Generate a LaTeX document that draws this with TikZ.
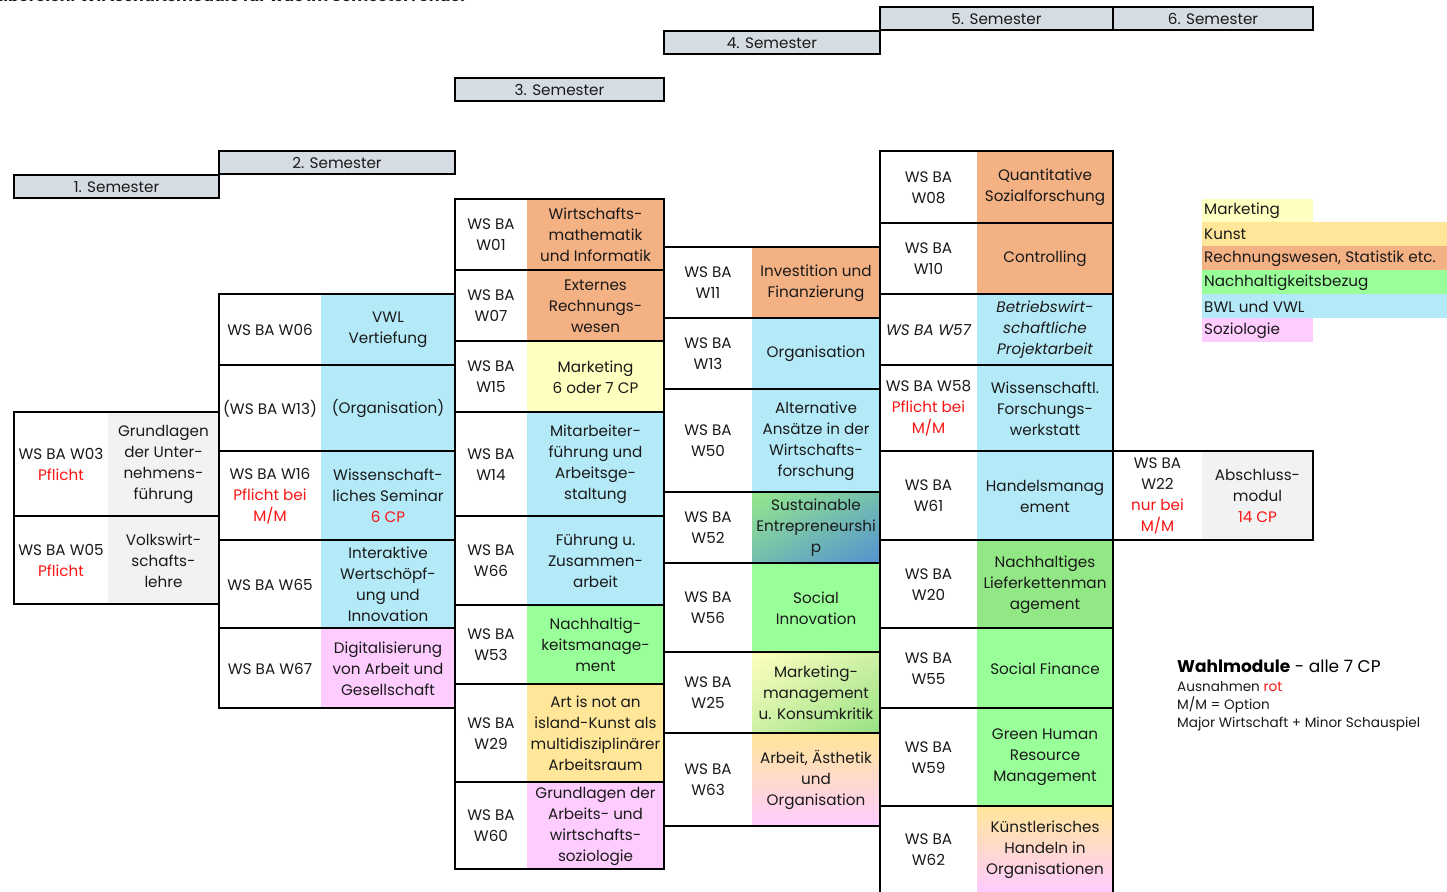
\documentclass[tikz,border=0pt]{standalone}
\usepackage{fontspec}
\setmainfont{Poppins}
\usetikzlibrary{shadings}
\definecolor{hdrc}{RGB}{214,220,228}
\definecolor{orng}{RGB}{244,177,131}
\definecolor{yel}{RGB}{255,255,191}
\definecolor{kunst}{RGB}{255,230,153}
\definecolor{grn}{RGB}{153,255,153}
\definecolor{grnd}{RGB}{146,232,132}
\definecolor{blu}{RGB}{180,234,248}
\definecolor{pnk}{RGB}{255,204,255}
\definecolor{gry}{RGB}{242,242,242}
\definecolor{txtc}{RGB}{26,26,26}
\definecolor{rd}{RGB}{250,20,20}
\definecolor{sblue}{RGB}{85,145,210}
\definecolor{sgreen}{RGB}{150,232,140}
\definecolor{steal}{RGB}{115,190,175}
\definecolor{mgreen}{RGB}{150,225,130}
\definecolor{myel}{RGB}{205,240,165}
\newcommand{\rt}[1]{\textcolor{rd}{#1}}
\newcommand{\cellfont}{\fontsize{15.2}{21}\selectfont}
\tikzset{
  bd/.style={draw=black, line width=1.8pt},
  txt/.style={align=center, font=\cellfont, text=txtc, inner sep=0pt},
  hdrbox/.style={fill=hdrc, draw=black, line width=1.8pt},
  legtxt/.style={anchor=west, font=\cellfont, text=txtc, inner sep=0pt}
}
% name, x1, xs, x2, y1, y2, fillspec, code, title
\newcommand{\modcell}[9]{%
  \path[#7] (#3,#5) rectangle (#4,#6);
  \node[txt] (#1c) at ({(#2+#3)/2},{(#5+#6)/2+0.5}) {#8};
  \node[txt] (#1t) at ({(#3+#4)/2},{(#5+#6)/2+0.5}) {#9};
  \draw[bd] (#2,#5) rectangle (#4,#6);
}
\begin{document}
\begin{tikzpicture}[x=1pt,y=-1pt]
\useasboundingbox[fill=white] (0,0) rectangle (1447,891);

% cut-off title
\node[anchor=base east, inner sep=0pt, font=\bfseries\fontsize{16}{19}\selectfont, text=txtc] (title) at (465,2) {Wahlbereich: Wirtschaftsmodule für was im Semester?ende.};

% semester headers
\draw[hdrbox] (14,175) rectangle (219,198);
\node[txt] (s1) at (116.5,187) {1. Semester};
\draw[hdrbox] (219,151) rectangle (455,174);
\node[txt] (s2) at (337,163) {2. Semester};
\draw[hdrbox] (455,78) rectangle (664,101);
\node[txt] (s3) at (559.5,90) {3. Semester};
\draw[hdrbox] (664,31) rectangle (880,54);
\node[txt] (s4) at (772,43) {4. Semester};
\draw[hdrbox] (880,7) rectangle (1113,30);
\node[txt] (s5) at (996.5,19) {5. Semester};
\draw[hdrbox] (1113,7) rectangle (1313,30);
\node[txt] (s6) at (1213,19) {6. Semester};

% column 1
\modcell{wA}{14}{108}{219}{412}{516}{fill=gry}{WS BA W03\\\rt{Pflicht}}{Grundlagen\\der Unter-\\nehmens-\\führung}
\modcell{wB}{14}{108}{219}{516}{604}{fill=gry}{WS BA W05\\\rt{Pflicht}}{Volkswirt-\\schafts-\\lehre}

% column 2
\modcell{wC}{219}{321}{455}{294}{365}{fill=blu}{WS BA W06}{VWL\\Vertiefung}
\modcell{wD}{219}{321}{455}{365}{451}{fill=blu}{(WS BA W13)}{(Organisation)}
\modcell{wE}{219}{321}{455}{451}{540}{fill=blu}{WS BA W16\\\rt{Pflicht bei}\\\rt{M/M}}{Wissenschaft-\\liches Seminar\\\rt{6 CP}}
\modcell{wF}{219}{321}{455}{540}{628}{fill=blu}{WS BA W65}{Interaktive\\Wertschöpf-\\ung und\\Innovation}
\modcell{wG}{219}{321}{455}{628}{708}{fill=pnk}{WS BA W67}{Digitalisierung\\von Arbeit und\\Gesellschaft}

% column 3
\modcell{wH}{455}{527}{664}{199}{270}{fill=orng}{WS BA\\W01}{Wirtschafts-\\mathematik\\und Informatik}
\modcell{wI}{455}{527}{664}{270}{341}{fill=orng}{WS BA\\W07}{Externes\\Rechnungs-\\wesen}
\modcell{wJ}{455}{527}{664}{341}{412}{fill=yel}{WS BA\\W15}{Marketing\\6 oder 7 CP}
\modcell{wK}{455}{527}{664}{412}{516}{fill=blu}{WS BA\\W14}{Mitarbeiter-\\führung und\\Arbeitsge-\\staltung}
\modcell{wL}{455}{527}{664}{516}{605}{fill=blu}{WS BA\\W66}{Führung u.\\Zusammen-\\arbeit}
\modcell{wM}{455}{527}{664}{605}{684}{fill=grn}{WS BA\\W53}{Nachhaltig-\\keitsmanage-\\ment}
\modcell{wN}{455}{527}{664}{684}{782}{fill=kunst}{WS BA\\W29}{Art is not an\\island-Kunst als\\multidisziplinärer\\Arbeitsraum}
\modcell{wO}{455}{527}{664}{782}{869}{fill=pnk}{WS BA\\W60}{Grundlagen der\\Arbeits- und\\wirtschafts-\\soziologie}

% column 4
\modcell{wP}{664}{752}{880}{247}{318}{fill=orng}{WS BA\\W11}{Investition und\\Finanzierung}
\modcell{wQ}{664}{752}{880}{318}{389}{fill=blu}{WS BA\\W13}{Organisation}
\modcell{wR}{664}{752}{880}{389}{492}{fill=blu}{WS BA\\W50}{Alternative\\Ansätze in der\\Wirtschafts-\\forschung}
\modcell{wS}{664}{752}{880}{492}{563}{upper left=sgreen,upper right=steal,lower left=steal,lower right=sblue}{WS BA\\W52}{Sustainable\\Entrepreneurshi\\p}
\modcell{wT}{664}{752}{880}{563}{652}{fill=grn}{WS BA\\W56}{Social\\Innovation}
\modcell{wU}{664}{752}{880}{652}{733}{upper left=yel,upper right=myel,lower left=myel,lower right=mgreen}{WS BA\\W25}{Marketing-\\management\\u. Konsumkritik}
\modcell{wV}{664}{752}{880}{733}{826}{top color=kunst,bottom color=pnk}{WS BA\\W63}{Arbeit, Ästhetik\\und\\Organisation}

% column 5
\modcell{wW}{880}{977}{1113}{151}{223}{fill=orng}{WS BA\\W08}{Quantitative\\Sozialforschung}
\modcell{wX}{880}{977}{1113}{223}{294}{fill=orng}{WS BA\\W10}{Controlling}
\modcell{wY}{880}{977}{1113}{294}{365}{fill=blu}{\itshape WS BA W57}{\itshape Betriebswirt-\\\itshape schaftliche\\\itshape Projektarbeit}
\modcell{wZ}{880}{977}{1113}{365}{451}{fill=blu}{WS BA W58\\\rt{Pflicht bei}\\\rt{M/M}}{Wissenschaftl.\\Forschungs-\\werkstatt}
\modcell{xA}{880}{977}{1113}{451}{540}{fill=blu}{WS BA\\W61}{Handelsmanag\\ement}
\modcell{xB}{880}{977}{1113}{540}{628}{fill=grnd}{WS BA\\W20}{Nachhaltiges\\Lieferkettenman\\agement}
\modcell{xC}{880}{977}{1113}{628}{708}{fill=grn}{WS BA\\W55}{Social Finance}
\modcell{xD}{880}{977}{1113}{708}{806}{fill=grn}{WS BA\\W59}{Green Human\\Resource\\Management}
\path[top color=kunst,bottom color=pnk] (977,806) rectangle (1113,891);
\node[txt] (xEc) at (928.5,849.5) {WS BA\\W62};
\node[txt] (xEt) at (1045,849.5) {Künstlerisches\\Handeln in\\Organisationen};
\draw[bd] (880,806) rectangle (1113,900);

% column 6
\modcell{xF}{1113}{1202}{1313}{451}{540}{fill=gry}{WS BA\\W22\\\rt{nur bei}\\\rt{M/M}}{Abschluss-\\modul\\\rt{14 CP}}

% legend
\fill[yel] (1202,199) rectangle (1313,222);
\node[legtxt] (lg1) at (1204,211) {Marketing};
\fill[kunst] (1202,222) rectangle (1447,246);
\node[legtxt] (lg2) at (1204,234.5) {Kunst};
\fill[orng] (1202,246) rectangle (1447,270);
\node[legtxt] (lg3) at (1204,258.5) {Rechnungswesen, Statistik etc.};
\fill[grn] (1202,270) rectangle (1447,294);
\node[legtxt] (lg4) at (1204,282.5) {Nachhaltigkeitsbezug};
\fill[blu] (1202,294) rectangle (1447,318);
\node[legtxt] (lg5) at (1204,306.5) {BWL und VWL};
\fill[pnk] (1202,318) rectangle (1313,342);
\node[legtxt] (lg6) at (1204,330.5) {Soziologie};

% notes
\node[anchor=base west, inner sep=0pt, font=\fontsize{17}{20}\selectfont, text=black] (wm1) at (1177,672) {\textbf{Wahlmodule} - alle 7 CP};
\node[anchor=base west, inner sep=0pt, font=\fontsize{13.6}{16}\selectfont, text=txtc] (wm2) at (1177,691) {Ausnahmen \rt{rot}};
\node[anchor=base west, inner sep=0pt, font=\fontsize{13.6}{16}\selectfont, text=txtc] (wm3) at (1177,709) {M/M = Option};
\node[anchor=base west, inner sep=0pt, font=\fontsize{13.6}{16}\selectfont, text=txtc] (wm4) at (1177,727) {Major Wirtschaft + Minor Schauspiel};
\end{tikzpicture}
\end{document}
